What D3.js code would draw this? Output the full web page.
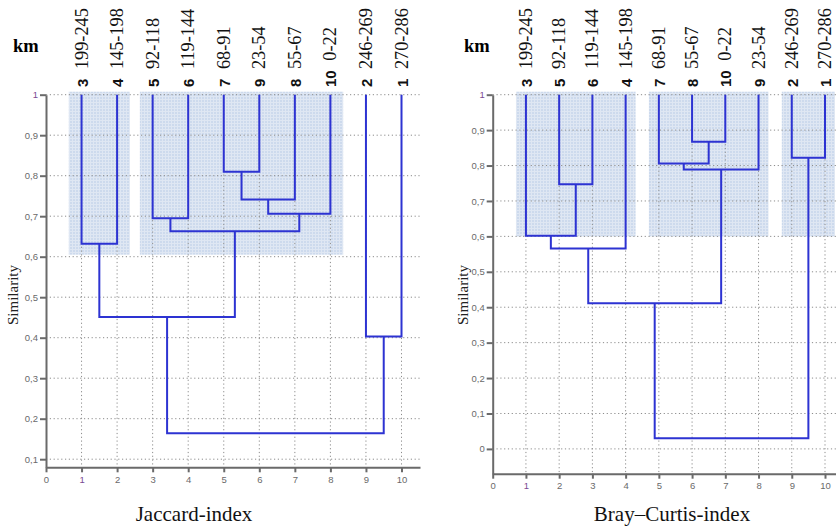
<!DOCTYPE html>
<html>
<head>
<meta charset="utf-8">
<script src="https://cdn.jsdelivr.net/npm/d3@7"></script>
<style>
  body { margin: 0; background: #fff; }
  .grid line { stroke: #8c8c8c; stroke-width: 1; stroke-dasharray: 1.2, 2.6; }
  .axis path, .axis line { stroke: #6a6a6a; stroke-width: 2; }
  .axis text { font-family: "Liberation Sans", Arial, sans-serif; font-size: 9.5px; fill: #6a6a6a; }
  .link { fill: none; stroke: #2d33d2; stroke-width: 2; }
</style>
</head>
<body>
<svg id="fig" width="836" height="529"></svg>
<script>
// Jaccard dendrogram: leaves in drawing order, km ranges, merges [childA, childB, similarity]
// (children 0-9 are leaves, 10+ are earlier merges)
const jacLeaves = ["3", "4", "5", "6", "7", "9", "8", "10", "2", "1"];
const jacKm = ["199-245", "145-198", "92-118", "119-144", "68-91", "23-54", "55-67", "0-22", "246-269", "270-286"];
const jacMerges = [
  [0, 1, 0.632],
  [2, 3, 0.695],
  [4, 5, 0.81],
  [12, 6, 0.741],
  [13, 7, 0.706],
  [11, 14, 0.663],
  [10, 15, 0.451],
  [8, 9, 0.403],
  [16, 17, 0.164]
];
const jacGroups = [[0, 1], [2, 7]];
const jacYTicks = [0.1, 0.2, 0.3, 0.4, 0.5, 0.6, 0.7, 0.8, 0.9, 1];

// Bray-Curtis dendrogram
const bcLeaves = ["3", "5", "6", "4", "7", "8", "10", "9", "2", "1"];
const bcKm = ["199-245", "92-118", "119-144", "145-198", "68-91", "55-67", "0-22", "23-54", "246-269", "270-286"];
const bcMerges = [
  [1, 2, 0.747],
  [0, 10, 0.602],
  [11, 3, 0.566],
  [5, 6, 0.867],
  [4, 13, 0.806],
  [14, 7, 0.789],
  [12, 15, 0.411],
  [8, 9, 0.822],
  [16, 17, 0.03]
];
const bcGroups = [[0, 3], [4, 7], [8, 9]];
const bcYTicks = [0, 0.1, 0.2, 0.3, 0.4, 0.5, 0.6, 0.7, 0.8, 0.9, 1];

const xTicks = d3.range(0, 11);

const svg = d3.select("#fig");

// pattern for the shaded cluster boxes
const pat = svg.append("defs").append("pattern")
  .attr("id", "shade").attr("width", 3).attr("height", 3)
  .attr("patternUnits", "userSpaceOnUse");
pat.append("rect").attr("width", 3).attr("height", 3).attr("fill", "#cddaed");
pat.append("path").attr("d", "M0,0.5H3M0.5,0V3").attr("stroke", "#dfe7f3").attr("stroke-width", 1);

function fmtY(d) {
  if (d === 0) return "0";
  if (d === 1) return "1";
  return d3.format(".1f")(d).replace(".", ",");
}

function drawDendro(cfg) {
  const g = svg.append("g");

  const x = d3.scaleLinear().domain([0, 10]).range([cfg.x0, cfg.x10]);
  const y = d3.scaleLinear().domain([cfg.yMin, 1]).range([cfg.yBot, cfg.yTop]);

  // shaded cluster boxes
  g.selectAll("rect.box")
    .data(cfg.groups)
    .enter()
    .append("rect")
    .attr("class", "box")
    .attr("x", d => x(d[0] + 1 - cfg.pad))
    .attr("y", y(1) - 3)
    .attr("width", d => x(d[1] + 1 + cfg.pad) - x(d[0] + 1 - cfg.pad))
    .attr("height", y(cfg.cut) - y(1) + 3)
    .attr("fill", "url(#shade)");

  // dotted grid
  const grid = g.append("g").attr("class", "grid");
  grid.selectAll("line.h")
    .data(cfg.yTicks)
    .enter()
    .append("line")
    .attr("x1", cfg.x0).attr("x2", cfg.xEnd)
    .attr("y1", d => y(d)).attr("y2", d => y(d));
  grid.selectAll("line.v")
    .data(xTicks.slice(1))
    .enter()
    .append("line")
    .attr("x1", d => x(d)).attr("x2", d => x(d))
    .attr("y1", y(1)).attr("y2", cfg.yBot);

  // axes
  const xAxisScale = x.copy().domain([0, x.invert(cfg.xEnd)]).range([cfg.x0, cfg.xEnd]);
  const xa = g.append("g").attr("class", "axis")
    .attr("transform", `translate(0,${cfg.yBot})`)
    .call(d3.axisBottom(xAxisScale).tickValues(xTicks).tickSize(5).tickSizeOuter(0).tickPadding(4));
  xa.selectAll("text").filter(d => d === 1).style("fill", "#7b4a93");

  const ya = g.append("g").attr("class", "axis")
    .attr("transform", `translate(${cfg.x0},0)`)
    .call(d3.axisLeft(y).tickValues(cfg.yTicks).tickFormat(fmtY).tickSize(6).tickSizeOuter(0).tickPadding(2));
  ya.selectAll("text").filter(d => d === 1).style("fill", "#7b4a93");

  // dendrogram links
  const nodes = cfg.leaves.map((d, i) => ({ x: i + 1, h: 1 }));
  cfg.merges.forEach(m => {
    const a = nodes[m[0]], b = nodes[m[1]];
    g.append("path")
      .attr("class", "link")
      .attr("d", `M${x(a.x)},${y(a.h)}V${y(m[2])}H${x(b.x)}V${y(b.h)}`);
    nodes.push({ x: (a.x + b.x) / 2, h: m[2] });
  });

  // leaf labels
  const lab = g.selectAll("text.leaf")
    .data(cfg.leaves)
    .enter()
    .append("text")
    .attr("class", "leaf")
    .attr("transform", (d, i) => `translate(${x(i + 1) + 6},87) rotate(-90)`)
    .attr("fill", "#111");
  lab.append("tspan")
    .style("font-family", "'Liberation Sans', Arial, sans-serif")
    .style("font-weight", "bold")
    .style("font-size", "15px")
    .text(d => d);
  lab.append("tspan")
    .attr("dx", 5)
    .style("font-family", "'Liberation Serif', 'Times New Roman', serif")
    .style("font-size", "18.3px")
    .text((d, i) => " " + cfg.km[i]);

  // km header
  g.append("text")
    .attr("x", cfg.kmX).attr("y", 52)
    .style("font-family", "'Liberation Serif', serif")
    .style("font-weight", "bold")
    .style("font-size", "18.5px")
    .text("km");

  // y label
  g.append("text")
    .attr("transform", `translate(${cfg.yLabX},295) rotate(-90)`)
    .attr("text-anchor", "middle")
    .style("font-family", "'Liberation Serif', serif")
    .style("font-size", "15px")
    .attr("fill", "#222")
    .text("Similarity");

  // title
  g.append("text")
    .attr("x", cfg.titleX).attr("y", 521)
    .attr("text-anchor", "middle")
    .style("font-family", "'Liberation Serif', serif")
    .style("font-size", "21px")
    .attr("fill", "#111")
    .text(cfg.title);
}

drawDendro({
  leaves: jacLeaves, km: jacKm, merges: jacMerges, groups: jacGroups, yTicks: jacYTicks,
  x0: 46, x10: 401.5, xEnd: 420, yTop: 94.7, yBot: 467.3, yMin: 0.08,
  cut: 0.605, pad: 0.36, kmX: 13, yLabX: 18, titleX: 194, title: "Jaccard-index"
});

drawDendro({
  leaves: bcLeaves, km: bcKm, merges: bcMerges, groups: bcGroups, yTicks: bcYTicks,
  x0: 492.7, x10: 825, xEnd: 836, yTop: 94.7, yBot: 473.7, yMin: -0.07,
  cut: 0.6, pad: 0.3, kmX: 464, yLabX: 468, titleX: 672, title: "Bray\u2013Curtis-index"
});
</script>
</body>
</html>
